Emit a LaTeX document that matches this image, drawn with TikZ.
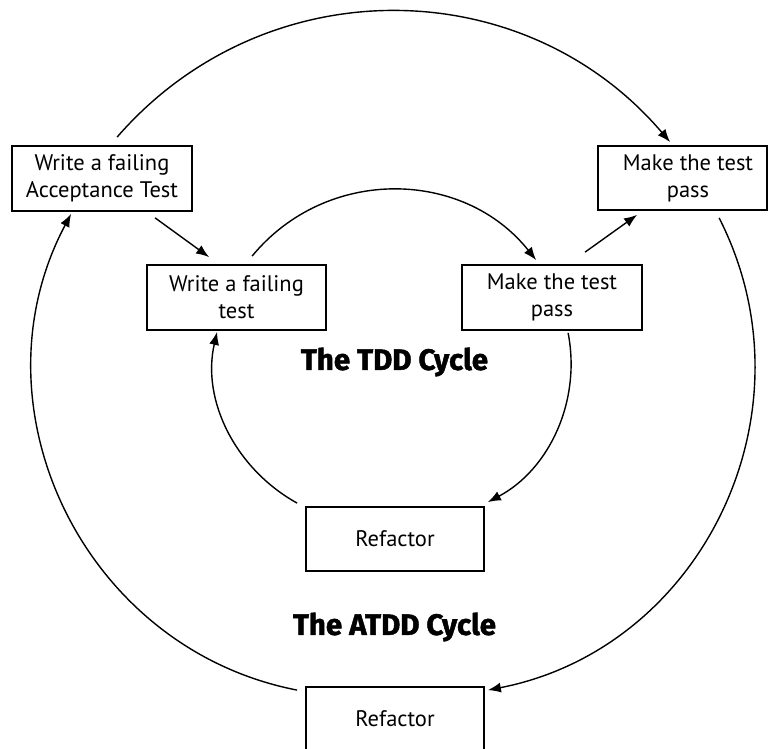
\documentclass[tikz,border=0pt]{standalone}
\usepackage{fontspec}
\setmainfont{PT Sans}
\newfontfamily\titlefont{Fira Sans}[FakeBold=1.6]
\usetikzlibrary{arrows.meta}

\tikzset{
  stepbox/.style={draw, line width=1.8pt, rectangle, inner sep=0pt, align=center,
    font=\fontsize{22.5}{27}\selectfont},
  flow/.style={line width=1.4pt, -{Latex[length=13pt,width=10pt]}},
  cycletitle/.style={font=\titlefont\bfseries\fontsize{29.5}{32}\selectfont}
}

\begin{document}
\begin{tikzpicture}[x=1pt,y=1pt]
  \useasboundingbox (0,0) rectangle (768,749);
  \fill[white] (0,0) rectangle (768,749);
  \clip (0,0) rectangle (768,749);

  % outer (acceptance) cycle boxes
  \node[stepbox, minimum width=180, minimum height=65] (acc) at (102,570.5)
    {Write a failing\\Acceptance Test};
  \node[stepbox, minimum width=169, minimum height=64] (mko) at (682.5,571)
    {\hspace*{11pt}Make the test\\\hspace*{11pt}pass};
  \node[stepbox, minimum width=178, minimum height=64] (ref2) at (395,30)
    {Refactor};

  % inner (unit test) cycle boxes
  \node[stepbox, minimum width=179, minimum height=65] (wri) at (236.5,451.5)
    {Write a failing\\test};
  \node[stepbox, minimum width=180, minimum height=65] (mki) at (552,451.5)
    {Make the test\\pass};
  \node[stepbox, minimum width=178, minimum height=64] (ref1) at (395,210)
    {Refactor};

  % cycle titles
  \node[cycletitle] (tdd) at (394.5,387) {The TDD Cycle};
  \node[cycletitle] (atdd) at (394.5,122) {The ATDD Cycle};

  % outer cycle
  \draw[flow] ([shift={(106,8)}]acc.north west)
    to[out=49,in=130.4,looseness=1.04] ([shift={(73,3)}]mko.north west);
  \draw[flow] ([shift={(122,-7)}]mko.south west)
    to[out=-63,in=11,looseness=1.06] ([shift={(3,-4)}]ref2.north east);
  \draw[flow] ([shift={(-8,-4)}]ref2.north west)
    to[out=169,in=242,looseness=1.06] ([shift={(60,-2)}]acc.south west);

  % links between the two cycles
  \draw[flow] ([shift={(144,-6)}]acc.south west) -- ([shift={(63,7)}]wri.north west);
  \draw[flow] ([shift={(124,12)}]mki.north west) -- ([shift={(40,-4)}]mko.south west);

  % inner cycle
  \draw[flow] ([shift={(106,8)}]wri.north west)
    to[out=50.5,in=128.5,looseness=1.05] ([shift={(75,4)}]mki.north west);
  \draw[flow] ([shift={(107,-2)}]mki.south west)
    to[out=-79,in=28,looseness=0.95] ([shift={(3,4)}]ref1.north east);
  \draw[flow] ([shift={(-8,3)}]ref1.north west)
    to[out=151,in=257,looseness=0.95] ([shift={(71,-1)}]wri.south west);
\end{tikzpicture}
\end{document}
